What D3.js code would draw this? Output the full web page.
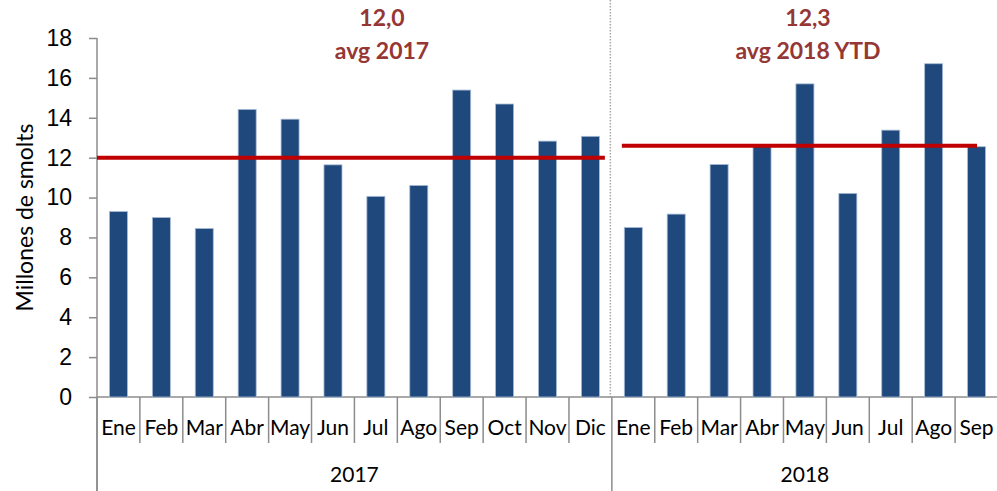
<!DOCTYPE html>
<html>
<head>
<meta charset="utf-8">
<script src="https://cdn.jsdelivr.net/npm/d3@7"></script>
<style>
    html, body { margin: 0; padding: 0; background: #fff; }
    svg { display: block; font-family: Lato, "Open Sans", sans-serif; }
</style>
</head>
<body>
<div id="chart"></div>
<script>
// ===== Smolts por mes, 2017 vs 2018 YTD =====

const months2017 = ['Ene', 'Feb', 'Mar', 'Abr', 'May', 'Jun', 'Jul', 'Ago', 'Sep', 'Oct', 'Nov', 'Dic'];
const months2018 = ['Ene', 'Feb', 'Mar', 'Abr', 'May', 'Jun', 'Jul', 'Ago', 'Sep'];
const values2017 = [9.3, 9.0, 8.45, 14.42, 13.93, 11.64, 10.06, 10.61, 15.39, 14.69, 12.83, 13.07];
const values2018 = [8.5, 9.17, 11.66, 12.58, 15.7, 10.21, 13.38, 16.71, 12.55];
const years = ['2017', '2018'];
const avgLines = [12.0, 12.6];
const avgLabels = [['12,0', 'avg 2017'], ['12,3', 'avg 2018 YTD']];
const yTicks = [0, 2, 4, 6, 8, 10, 12, 14, 16, 18];

const width = 997, height = 491;
const margin = { top: 38, right: -1, bottom: 94, left: 97 };

const rows = [];
months2017.forEach((m, i) => rows.push({ key: '2017-' + m, month: m, year: '2017', value: values2017[i] }));
months2018.forEach((m, i) => rows.push({ key: '2018-' + m, month: m, year: '2018', value: values2018[i] }));

const svg = d3.select('#chart')
    .append('svg')
    .attr('width', width)
    .attr('height', height);

const x = d3.scaleBand()
    .domain(rows.map(d => d.key))
    .range([margin.left, width - margin.right])
    .paddingInner(0.58)
    .paddingOuter(0.29);

const y = d3.scaleLinear()
    .domain([0, 18])
    .range([height - margin.bottom, margin.top]);

const step = x.step();
const x0 = x(rows[0].key) - x.paddingOuter() * step;
const yearStart = yr => {
    const first = rows.find(d => d.year === yr);
    return x(first.key) - x.paddingOuter() * step;
};
const yearEnd = yr => {
    const list = rows.filter(d => d.year === yr);
    return x(list[list.length - 1].key) - x.paddingOuter() * step + step;
};
const axisColor = '#8c8c8c';

// dotted separator between years
svg.append('line')
    .attr('x1', yearStart('2018') - 1.5).attr('x2', yearStart('2018') - 1.5)
    .attr('y1', 0).attr('y2', y(0))
    .style('stroke', '#a6a6a6')
    .style('stroke-width', 1.5)
    .style('stroke-dasharray', '1.5,1.5');

// y axis
const yAxis = svg.append('g')
    .attr('transform', `translate(${x0},0)`)
    .call(d3.axisLeft(y).tickValues(yTicks).tickSize(8).tickPadding(17));
yAxis.select('.domain').remove();
yAxis.selectAll('.tick line').style('stroke', axisColor).style('stroke-width', 1.5);
yAxis.selectAll('.tick text')
    .style('font-size', '23px')
    .style('fill', '#000');

svg.append('line')
    .attr('x1', x0).attr('x2', x0)
    .attr('y1', y(18)).attr('y2', height)
    .style('stroke', axisColor).style('stroke-width', 1.5);

// x baseline
svg.append('line')
    .attr('x1', x0).attr('x2', width)
    .attr('y1', y(0)).attr('y2', y(0))
    .style('stroke', axisColor).style('stroke-width', 1.5);

// bars
svg.append('g')
    .selectAll('rect')
    .data(rows)
    .enter().append('rect')
    .attr('x', d => x(d.key))
    .attr('y', d => y(d.value))
    .attr('width', x.bandwidth())
    .attr('height', d => y(0) - y(d.value))
    .style('fill', '#1f497d')
    .style('stroke', '#a9bcd6')
    .style('stroke-width', 0.8);

// category ticks and month labels
const cat = svg.append('g');
rows.forEach((d, i) => {
    const left = x(d.key) - x.paddingOuter() * step;
    const isYearStart = i === 0 || rows[i - 1].year !== d.year;
    cat.append('line')
        .attr('x1', left).attr('x2', left)
        .attr('y1', y(0)).attr('y2', isYearStart ? height : 443)
        .style('stroke', axisColor).style('stroke-width', 1.5);
    cat.append('text')
        .attr('x', x(d.key) + x.bandwidth() / 2)
        .attr('y', 428)
        .attr('dy', '0.35em')
        .style('text-anchor', 'middle')
        .style('font-size', '21px')
        .text(d.month);
});

// year labels
years.forEach(yr => {
    svg.append('text')
        .attr('x', (yearStart(yr) + yearEnd(yr)) / 2)
        .attr('y', 475)
        .attr('dy', '0.35em')
        .style('text-anchor', 'middle')
        .style('font-size', '21px')
        .text(yr);
});

// average lines
const avgExtent = [[x0, yearStart('2018') - 7], [yearStart('2018') + 10, width - 20]];
avgLines.forEach((v, i) => {
    svg.append('line')
        .attr('x1', avgExtent[i][0]).attr('x2', avgExtent[i][1])
        .attr('y1', y(v)).attr('y2', y(v))
        .style('stroke', '#c00000')
        .style('stroke-width', 4);
});

// average annotations
const labelX = [382, 808];
avgLabels.forEach((lines, i) => {
    lines.forEach((t, j) => {
        svg.append('text')
            .attr('x', labelX[i])
            .attr('y', 18 + j * 33)
            .attr('dy', '0.35em')
            .style('text-anchor', 'middle')
            .style('font-size', '23px')
            .style('font-weight', 'bold')
            .style('fill', '#953735')
            .text(t);
    });
});

// axis title
svg.append('text')
    .attr('transform', `translate(25,${(y(0) + y(18)) / 2}) rotate(-90)`)
    .attr('dy', '0.35em')
    .style('text-anchor', 'middle')
    .style('font-size', '23px')
    .text('Millones de smolts');
</script>
</body>
</html>
